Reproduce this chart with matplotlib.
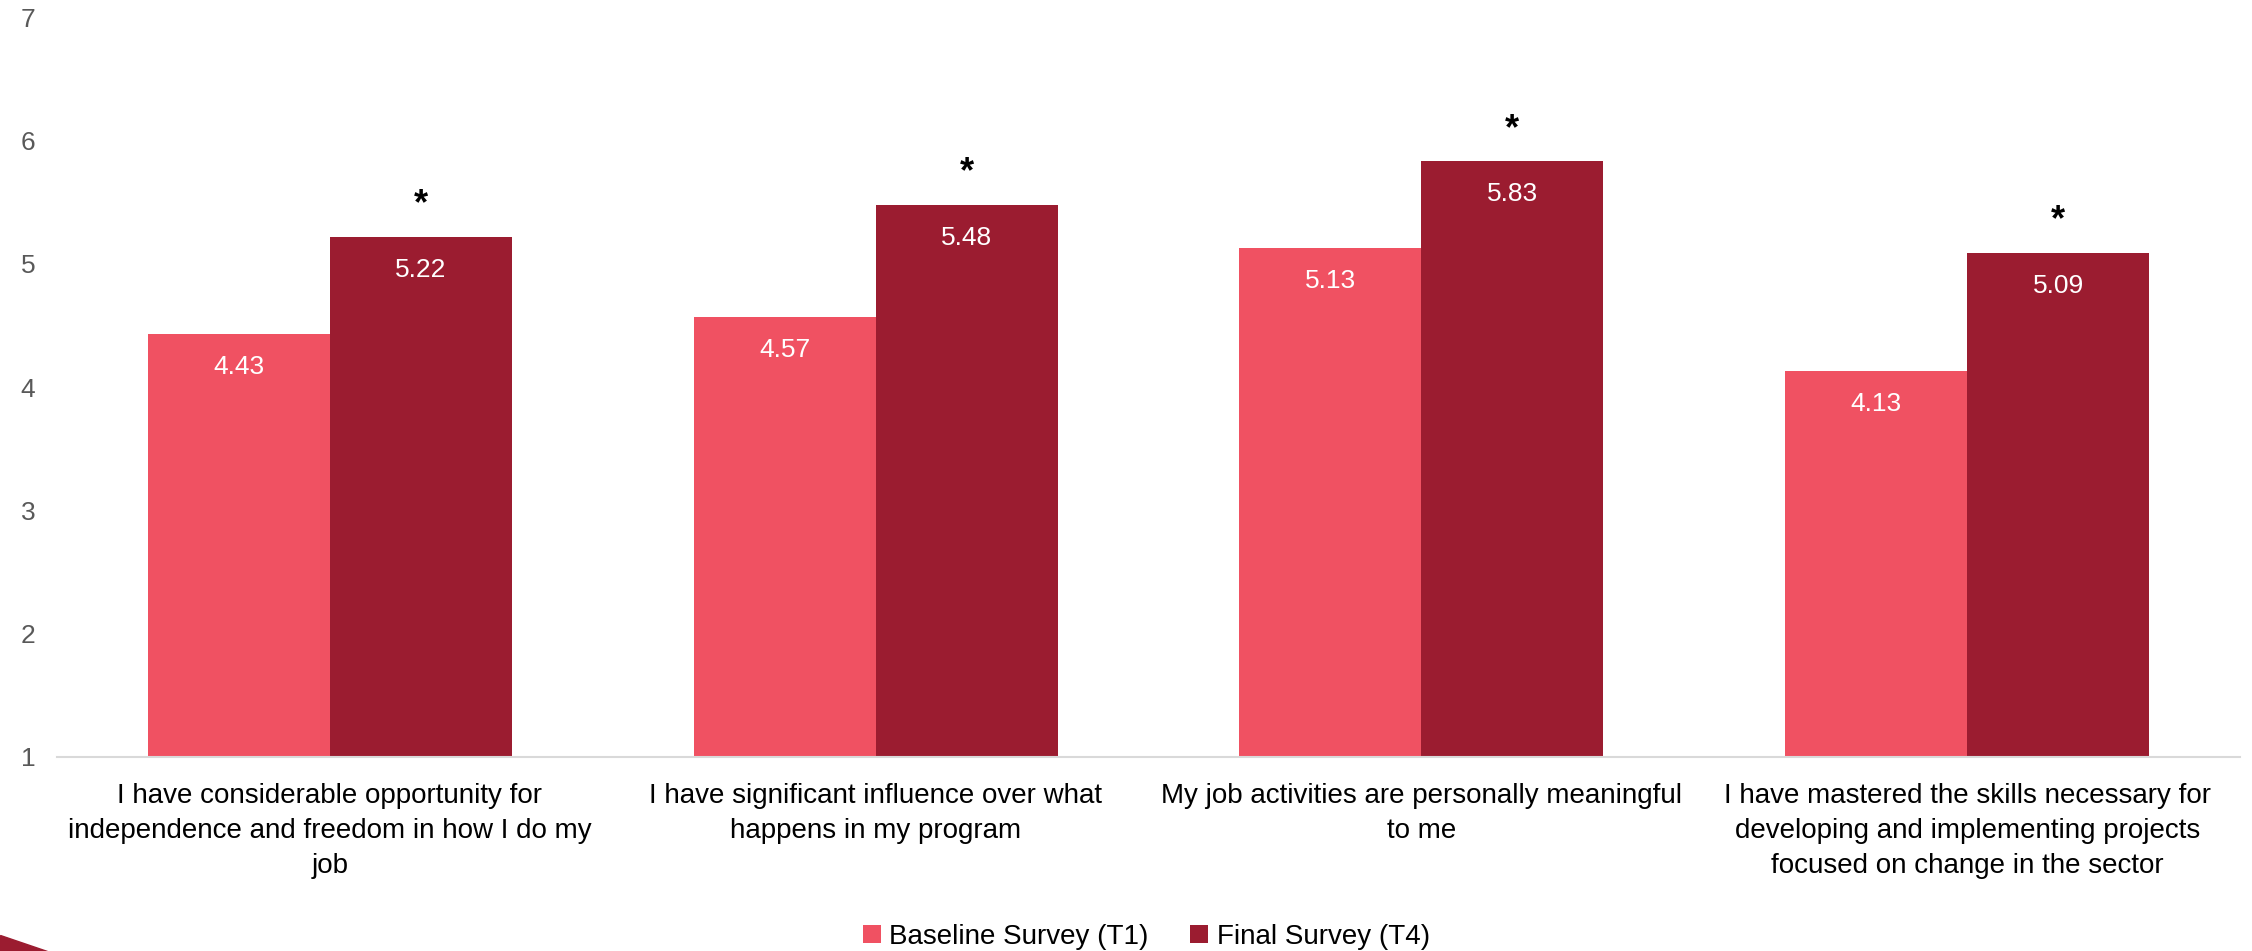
import matplotlib.pyplot as plt
import numpy as np
from matplotlib.patches import Polygon

plt.rcParams['font.family'] = ['Liberation Sans', 'DejaVu Sans']

categories = [
    "I have considerable opportunity for\nindependence and freedom in how I do my\njob",
    "I have significant influence over what\nhappens in my program",
    "My job activities are personally meaningful\nto me",
    "I have mastered the skills necessary for\ndeveloping and implementing projects\nfocused on change in the sector",
]
baseline = [4.43, 4.57, 5.13, 4.13]
final = [5.22, 5.48, 5.83, 5.09]
significant = [True, True, True, True]
series_names = ["Baseline Survey (T1)", "Final Survey (T4)"]

pink = "#F05162"
maroon = "#9B1C30"

fig = plt.figure(figsize=(22.52, 9.51), dpi=100)
ax = fig.add_axes([0.0253, 0.204, 0.9694, 0.778])

x = np.arange(len(categories))
w = 0.3335
b1 = ax.bar(x - w / 2, np.array(baseline) - 1, w, bottom=1, color=pink, label=series_names[0])
b2 = ax.bar(x + w / 2, np.array(final) - 1, w, bottom=1, color=maroon, label=series_names[1])

for rect, v in zip(list(b1) + list(b2), baseline + final):
    ax.annotate(f"{v:.2f}", (rect.get_x() + rect.get_width() / 2, v),
                xytext=(0, -33), textcoords="offset pixels",
                ha="center", va="center", color="white", fontsize=19)

for rect, v, s in zip(b2, final, significant):
    if s:
        ax.annotate("*", (rect.get_x() + rect.get_width() / 2, v),
                    xytext=(0, 32), textcoords="offset pixels",
                    ha="center", va="center", color="black", fontsize=26,
                    fontweight="bold")

ax.set_xlim(-0.5, len(categories) - 0.5)
ax.set_ylim(1, 7)
ax.set_yticks(range(1, 8))
ax.set_xticks(x)
ax.set_xticklabels(categories, fontsize=20, color="black", linespacing=1.45)
ax.tick_params(axis="x", length=0, pad=19)
ax.tick_params(axis="y", length=0, labelsize=19, labelcolor="#595959", pad=26)
for lbl in ax.get_yticklabels():
    lbl.set_horizontalalignment("left")
for side in ["top", "right", "left"]:
    ax.spines[side].set_visible(False)
ax.spines["bottom"].set_color("#D9D9D9")
ax.spines["bottom"].set_linewidth(1.5)

fig.legend(loc="center", bbox_to_anchor=(0.509, 0.015), ncol=2, frameon=False,
           fontsize=20, handlelength=0.65, handleheight=0.65, handletextpad=0.3,
           columnspacing=1.5)

# small decorative wedge in the lower-left corner
fig.patches.append(Polygon([[0, 0.017], [0, 0], [0.021, 0]], closed=True,
                           transform=fig.transFigure, color=maroon))

fig.savefig("out.png", dpi=100)
